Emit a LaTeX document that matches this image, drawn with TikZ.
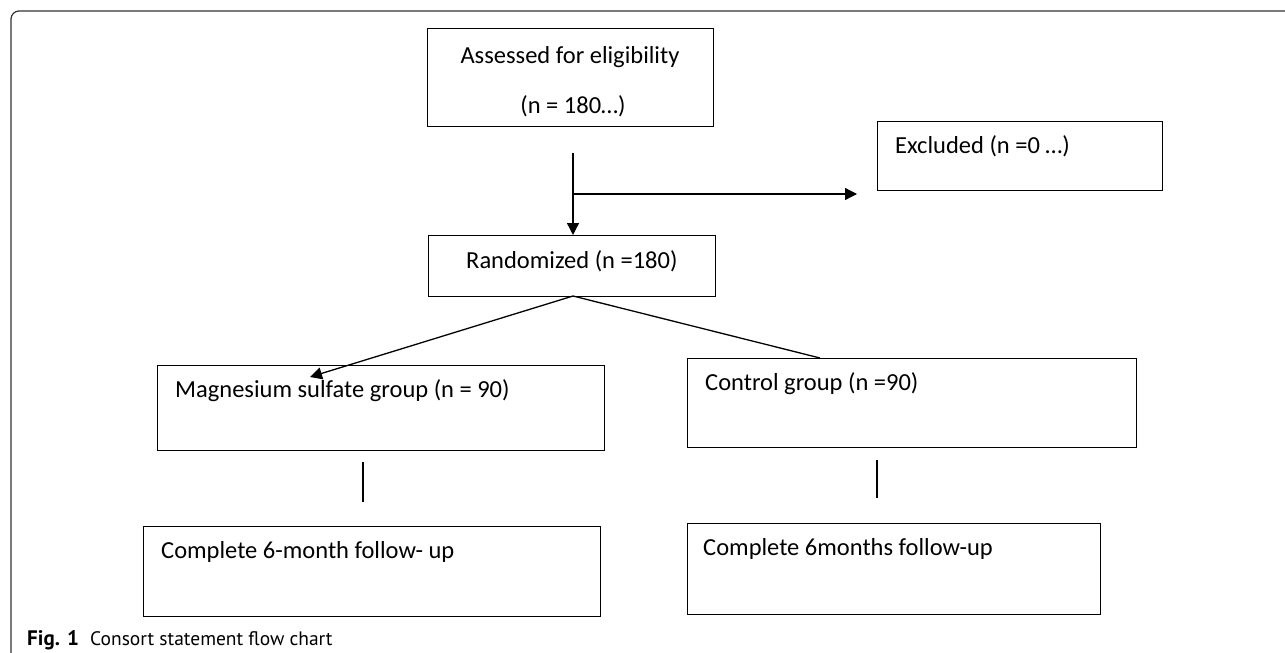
\documentclass[tikz,border=0pt]{standalone}
\usepackage{fontspec}
\setmainfont{Carlito}
\newfontfamily\capfont{PT Sans}
\usetikzlibrary{arrows.meta}
\begin{document}
\begin{tikzpicture}[x=1pt,y=-1pt,
  box/.style={draw=black,line width=1.3pt,inner sep=0pt,anchor=north west},
  txt/.style={anchor=base west,inner sep=0pt,font=\fontsize{24.5}{28}\selectfont},
  conn/.style={draw=black,line width=1.3pt},
  arr/.style={conn,-{Triangle[length=12pt,width=12pt]}}]
\useasboundingbox (0,0) rectangle (1285,653);
\fill[white] (0,0) rectangle (1285,653);
% frame
\draw[line width=1.2pt,draw=black!80,rounded corners=8pt] (11,653) -- (11,11) -- (1285,11);
% boxes
\node[box,minimum width=286pt,minimum height=98pt] (assess) at (427,28) {};
\node[box,minimum width=285pt,minimum height=69pt] (excl) at (877,121) {};
\node[box,minimum width=287pt,minimum height=61pt] (rand) at (428,235) {};
\node[box,minimum width=447pt,minimum height=85pt] (mag) at (157,365) {};
\node[box,minimum width=449pt,minimum height=89pt] (ctrl) at (687,358) {};
\node[box,minimum width=457pt,minimum height=90pt] (compl) at (143,526) {};
\node[box,minimum width=413pt,minimum height=91pt] (compr) at (687,523) {};
% texts
\node[txt,anchor=base] (t1) at (570,63) {Assessed for eligibility};
\node[txt,anchor=base] (t2) at (573,113) {(n = 180…)};
\node[txt] (tex) at (895,153) {Excluded (n =0 …)};
\node[txt] (trand) at (466,268) {Randomized (n =180)};
\node[txt] (tmag) at (175,397) {Magnesium sulfate group (n = 90)};
\node[txt] (tctrl) at (705,390) {Control group (n =90)};
\node[txt] (tcl) at (161,558) {Complete 6-month follow- up};
\node[txt] (tcr) at (703,555) {Complete 6months follow-up};
\node[anchor=base west,inner sep=0pt,font=\capfont\fontsize{19.5}{22}\selectfont] (cap) at (27,645) {\makebox[63pt][l]{\fontsize{21}{22}\selectfont\textbf{Fig. 1}}Consort statement flow chart};
% connectors
\coordinate (vstart) at (573,153);
\coordinate (vjoin) at (573,194);
\coordinate (exend) at (857,194);
\coordinate (randpt) at (573,296);
\coordinate (magtip) at (310,377);
\coordinate (ctrlpt) at (820,358);
\coordinate (l1a) at (363,462);
\coordinate (l1b) at (363,502);
\coordinate (l2a) at (877,460);
\coordinate (l2b) at (877,498);
\draw[arr] (vstart) -- (rand.north west -| vstart);
\draw[arr] (vjoin) -- (exend);
\draw[arr] (randpt) -- (magtip);
\draw[conn] (randpt) -- (ctrlpt);
\draw[conn] (l1a) -- (l1b);
\draw[conn] (l2a) -- (l2b);
\end{tikzpicture}
\end{document}
